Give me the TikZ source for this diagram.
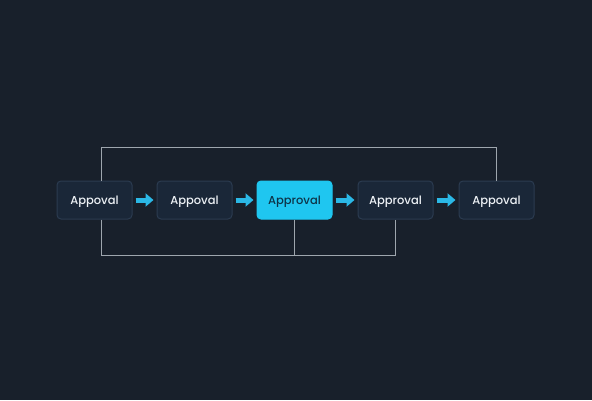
\documentclass[tikz,border=0pt]{standalone}
\usepackage{fontspec}
\setmainfont{Poppins}[BoldFont={Poppins Medium}]
\usepackage{tikz}
\usetikzlibrary{arrows.meta, positioning}
\definecolor{bgnavy}{HTML}{18202B}
\definecolor{boxnavy}{HTML}{1A2738}
\definecolor{edgenavy}{HTML}{2B3B50}
\definecolor{flowcyan}{HTML}{2BB8E6}
\definecolor{hotcyan}{HTML}{1FC6F0}
\definecolor{hottext}{HTML}{0E3448}
\definecolor{railgray}{HTML}{9EA6AE}
\definecolor{labelwhite}{HTML}{EEF2F6}

\begin{document}
\begin{tikzpicture}[
  x=1pt, y=1pt,
  stage/.style={
    rectangle, rounded corners=4pt,
    minimum width=75pt, minimum height=38pt, text depth=0pt,
    fill=boxnavy, draw=edgenavy, line width=1pt,
    text=labelwhite, font=\fontsize{11.5}{13}\selectfont\bfseries
  },
  active/.style={
    stage, fill=hotcyan, draw=hotcyan, text=hottext
  },
  flow/.style={-{Triangle[length=8pt, width=13pt]}, line width=5pt,
    color=flowcyan, shorten <=3pt, shorten >=3pt},
  rail/.style={draw=railgray, line width=1pt}
]
  % Background
  \fill[bgnavy] (0,0) rectangle (592,400);
  \useasboundingbox (0,0) rectangle (592,400);

  % Rails
  \coordinate (highrail) at (0,253);
  \coordinate (lowrail)  at (0,145);

  % Stages
  \node[stage] (a1) at (94.5,200) {Appoval};
  \node[stage,  right=24pt of a1] (a2) {Appoval};
  \node[active, right=24pt of a2] (a3) {Approval};
  \node[stage,  right=25pt of a3] (a4) {Approval};
  \node[stage,  right=25pt of a4] (a5) {Appoval};

  % Rail lines
  \draw[rail] ([xshift=7pt]a1.north) -- ([xshift=7pt]a1.north |- highrail) -| (a5.north);
  \draw[rail] ([xshift=7pt]a1.south) -- ([xshift=7pt]a1.south |- lowrail) -| (a4.south);
  \draw[rail] (a3.south) -- (a3.south |- lowrail);

  % Flow arrows
  \draw[flow] (a1) -- (a2);
  \draw[flow] (a2) -- (a3);
  \draw[flow] (a3) -- (a4);
  \draw[flow] (a4) -- (a5);
\end{tikzpicture}
\end{document}
